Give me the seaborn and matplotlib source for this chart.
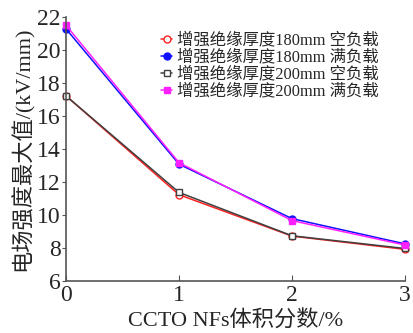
import matplotlib
matplotlib.use("Agg")
import matplotlib.pyplot as plt
import seaborn as sns
import pandas as pd

x_vals = [0, 1, 2, 3]
s180_empty = [17.22, 11.23, 8.72, 7.92]
s180_full = [21.28, 13.08, 9.78, 8.25]
s200_empty = [17.22, 11.37, 8.74, 7.97]
s200_full = [21.50, 13.17, 9.66, 8.18]
labels = ["增强绝缘厚度180mm 空负载", "增强绝缘厚度180mm 满负载",
          "增强绝缘厚度200mm 空负载", "增强绝缘厚度200mm 满负载"]

sns.set_style("ticks")
fam = ["Liberation Serif", "Noto Sans CJK SC"]
plt.rcParams["font.family"] = fam

df = pd.DataFrame({
    "x": x_vals * 4,
    "y": s180_empty + s180_full + s200_empty + s200_full,
    "s": sum([[l] * 4 for l in labels], []),
})

fig = plt.figure(figsize=(4.13, 3.33), dpi=100)
ax = fig.add_axes([66 / 413, 1 - 281 / 333, (405 - 66) / 413, (281 - 17) / 333])

colors = ["#ff2020", "#1010ff", "#404040", "#ff20ff"]
markers = ["o", "o", "s", "s"]
mfc = ["white", "#1010ff", "white", "#ff20ff"]
for lab, c, m, f in zip(labels, colors, markers, mfc):
    sub = df[df.s == lab]
    sns.lineplot(data=sub, x="x", y="y", ax=ax, color=c, marker=m,
                 markersize=5, markerfacecolor=f, markeredgecolor=c,
                 markeredgewidth=1, linewidth=1.1, label=lab)

ax.set_xlim(0, 3)
ax.set_ylim(6, 22)
ax.set_xticks([0, 1, 2, 3])
ax.set_yticks([6, 8, 10, 12, 14, 16, 18, 20, 22])
ax.tick_params(axis="x", direction="in", length=4, labelsize=17, pad=3, color="#555555")
ax.tick_params(axis="y", direction="out", length=3, labelsize=17, pad=1, color="#555555")
for sp in ["top", "right"]:
    ax.spines[sp].set_visible(False)
for sp in ["left", "bottom"]:
    ax.spines[sp].set_color("#555555")
    ax.spines[sp].set_linewidth(1.2)
ax.set_xlabel("CCTO NFs体积分数/%", fontsize=16, labelpad=3)
ax.set_ylabel("电场强度最大值/(kV/mm)", fontsize=16, labelpad=2)
for l in ax.lines:
    l.set_clip_on(False)

leg = ax.legend(loc="upper left", bbox_to_anchor=(0.28, 0.94), frameon=False,
                fontsize=11.8, handlelength=0.7, handletextpad=0.3,
                labelspacing=0.05, borderaxespad=0, borderpad=0)

fig.savefig("out.png", dpi=100)
